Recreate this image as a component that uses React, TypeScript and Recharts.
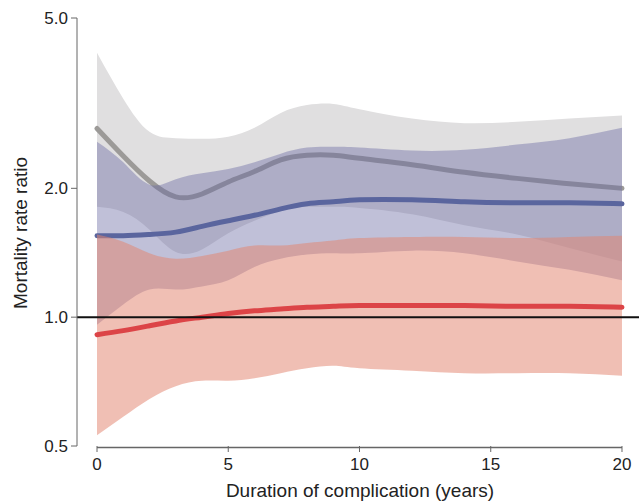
import React from 'react';
import {
  ComposedChart,
  Area,
  Line,
  XAxis,
  YAxis,
  ReferenceLine,
} from 'recharts';

// years since complication onset
const years = [0, 1, 2, 3, 4, 5, 6, 7, 8, 9, 10, 12, 14, 16, 18, 20];

// grey group
const grayHi = [4.15, 3.24, 2.71, 2.62, 2.61, 2.64, 2.77, 3.0, 3.13, 3.15, 3.06, 2.91, 2.84, 2.86, 2.91, 2.96];
const grayMid = [2.76, 2.38, 2.08, 1.91, 1.94, 2.07, 2.19, 2.33, 2.39, 2.39, 2.35, 2.27, 2.18, 2.11, 2.05, 2.0];
const grayLo = [1.81, 1.76, 1.6, 1.42, 1.44, 1.57, 1.68, 1.77, 1.81, 1.81, 1.8, 1.74, 1.64, 1.56, 1.45, 1.35];

// blue group
const blueHi = [2.57, 2.3, 2.04, 2.1, 2.17, 2.22, 2.3, 2.41, 2.49, 2.5, 2.49, 2.45, 2.46, 2.53, 2.62, 2.77];
const blueMid = [1.55, 1.55, 1.56, 1.58, 1.63, 1.68, 1.73, 1.79, 1.84, 1.86, 1.88, 1.88, 1.86, 1.85, 1.85, 1.84];
const blueLo = [0.96, 1.07, 1.16, 1.16, 1.18, 1.22, 1.31, 1.37, 1.4, 1.41, 1.41, 1.43, 1.41, 1.35, 1.29, 1.22];

// red group
const redHi = [1.56, 1.5, 1.41, 1.37, 1.39, 1.43, 1.47, 1.47, 1.49, 1.51, 1.53, 1.54, 1.54, 1.53, 1.54, 1.55];
const redMid = [0.91, 0.93, 0.955, 0.98, 1.0, 1.02, 1.035, 1.045, 1.055, 1.06, 1.065, 1.065, 1.065, 1.06, 1.06, 1.055];
const redLo = [0.53, 0.585, 0.644, 0.69, 0.71, 0.71, 0.72, 0.74, 0.76, 0.77, 0.76, 0.75, 0.74, 0.74, 0.74, 0.73];

const xTicks = [0, 5, 10, 15, 20];
const yTicks = [0.5, 1, 2, 5];

const data = years.map((year, i) => ({
  year,
  gray: [grayLo[i], grayHi[i]],
  grayMid: grayMid[i],
  blue: [blueLo[i], blueHi[i]],
  blueMid: blueMid[i],
  red: [redLo[i], redHi[i]],
  redMid: redMid[i],
}));

const FONT = '"Liberation Sans", Arial, Helvetica, sans-serif';
const AXIS = '#666';
const TEXT = '#222';

export default function App() {
  return (
    <div style={{ position: 'absolute', left: 0, top: 0, fontFamily: FONT }}>
      <ComposedChart
        width={639}
        height={503}
        data={data}
        margin={{ top: 18, right: 0, bottom: 0, left: 0 }}
      >
        <XAxis
          dataKey="year"
          type="number"
          domain={[-0.762, 20.648]}
          allowDataOverflow
          ticks={xTicks}
          axisLine={false}
          tickLine={{ stroke: AXIS }}
          tickSize={6}
          tickMargin={6}
          tick={{ fontSize: 17, fill: TEXT, fontFamily: FONT }}
          height={57}
          label={{
            content: () => (
              <text x={360} y={497} textAnchor="middle" fontSize={19} fill={TEXT} fontFamily={FONT}>
                Duration of complication (years)
              </text>
            ),
          }}
        />
        <YAxis
          type="number"
          scale="log"
          domain={[0.5, 5]}
          allowDataOverflow
          ticks={yTicks}
          tickFormatter={(v: number) => v.toFixed(1)}
          axisLine={{ stroke: AXIS }}
          tickLine={{ stroke: AXIS }}
          tickSize={6}
          tickMargin={3}
          tick={{ fontSize: 17, fill: TEXT, fontFamily: FONT }}
          width={77}
          label={{
            content: () => (
              <text
                x={20}
                y={233}
                transform="rotate(-90 20 233)"
                textAnchor="middle"
                dominantBaseline="central"
                fontSize={19}
                fill={TEXT}
                fontFamily={FONT}
              >
                Mortality rate ratio
              </text>
            ),
          }}
        />

        <Area
          dataKey="gray"
          type="natural"
          fill="#e0dfe0"
          fillOpacity={1}
          stroke="none"
          isAnimationActive={false}
          zIndex={101}
        />
        <Line
          dataKey="grayMid"
          type="natural"
          stroke="#9c9a98"
          strokeWidth={5}
          strokeLinecap="round"
          dot={false}
          activeDot={false}
          isAnimationActive={false}
          zIndex={102}
        />
        <Area
          dataKey="blue"
          type="natural"
          fill="#6969a2"
          fillOpacity={0.42}
          stroke="none"
          isAnimationActive={false}
          zIndex={103}
        />
        <Line
          dataKey="blueMid"
          type="natural"
          stroke="#5a659e"
          strokeWidth={5}
          strokeLinecap="round"
          dot={false}
          activeDot={false}
          isAnimationActive={false}
          zIndex={104}
        />
        <Area
          dataKey="red"
          type="natural"
          fill="#e2856f"
          fillOpacity={0.52}
          stroke="none"
          isAnimationActive={false}
          zIndex={105}
        />
        <Line
          dataKey="redMid"
          type="natural"
          stroke="#dc4447"
          strokeWidth={5}
          strokeLinecap="round"
          dot={false}
          activeDot={false}
          isAnimationActive={false}
          zIndex={106}
        />

        <ReferenceLine y={1} stroke="#111" strokeWidth={2} zIndex={107} />
        <ReferenceLine
          segment={[
            { x: 0, y: 0.496 },
            { x: 20, y: 0.496 },
          ]}
          ifOverflow="visible"
          stroke={AXIS}
          strokeWidth={1.5}
          zIndex={107}
        />
      </ComposedChart>
    </div>
  );
}
